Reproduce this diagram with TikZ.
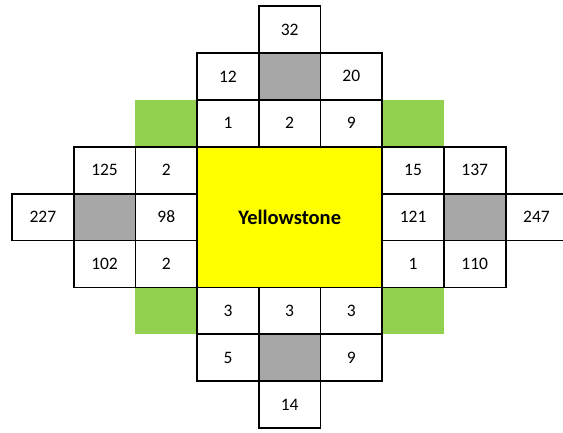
\documentclass[tikz,border=0pt]{standalone}
\usepackage{fontspec}
\setmainfont{Carlito}
\definecolor{ygreen}{HTML}{92D050}
\definecolor{cgray}{HTML}{A6A6A6}
\definecolor{cyellow}{HTML}{FFFF00}
\begin{document}
\begin{tikzpicture}[x=61.7pt,y=-46.9pt,
  cell/.style={draw=black,line width=1.8pt,rectangle,minimum width=61.7pt,minimum height=46.9pt,inner sep=0pt,font=\fontsize{17.5}{20}\selectfont},
  graycell/.style={cell,fill=cgray},
  greencell/.style={rectangle,fill=ygreen,minimum width=61.7pt,minimum height=46.9pt,inner sep=0pt}]
\useasboundingbox (-0.1945,-0.1279) rectangle (8.930,9.083);
% green corners (no border)
\node[greencell] (g1) at (2.5,2.5) {};
\node[greencell] (g2) at (6.5,2.5) {};
\node[greencell] (g3) at (2.5,6.5) {};
\node[greencell] (g4) at (6.5,6.5) {};
% centre
\node[cell,fill=cyellow,minimum width=185.1pt,minimum height=140.7pt,font=\fontsize{20.5}{24}\selectfont\bfseries] (ys) at (4.5,4.5) {Yellowstone};
% top
\node[cell] (t0) at (4.5,0.5) {32};
\node[cell] (t1) at (3.5,1.5) {12};
\node[graycell] (t2) at (4.5,1.5) {};
\node[cell] (t3) at (5.5,1.5) {20};
\node[cell] (t4) at (3.5,2.5) {1};
\node[cell] (t5) at (4.5,2.5) {2};
\node[cell] (t6) at (5.5,2.5) {9};
% left
\node[cell] (l1) at (1.5,3.5) {125};
\node[cell] (l2) at (2.5,3.5) {2};
\node[cell] (l0) at (0.5,4.5) {227};
\node[graycell] (l3) at (1.5,4.5) {};
\node[cell] (l4) at (2.5,4.5) {98};
\node[cell] (l5) at (1.5,5.5) {102};
\node[cell] (l6) at (2.5,5.5) {2};
% right
\node[cell] (r1) at (6.5,3.5) {15};
\node[cell] (r2) at (7.5,3.5) {137};
\node[cell] (r4) at (6.5,4.5) {121};
\node[graycell] (r3) at (7.5,4.5) {};
\node[cell] (r0) at (8.5,4.5) {247};
\node[cell] (r6) at (6.5,5.5) {1};
\node[cell] (r5) at (7.5,5.5) {110};
% bottom
\node[cell] (b4) at (3.5,6.5) {3};
\node[cell] (b5) at (4.5,6.5) {3};
\node[cell] (b6) at (5.5,6.5) {3};
\node[cell] (b1) at (3.5,7.5) {5};
\node[graycell] (b2) at (4.5,7.5) {};
\node[cell] (b3) at (5.5,7.5) {9};
\node[cell] (b0) at (4.5,8.5) {14};
\end{tikzpicture}
\end{document}
